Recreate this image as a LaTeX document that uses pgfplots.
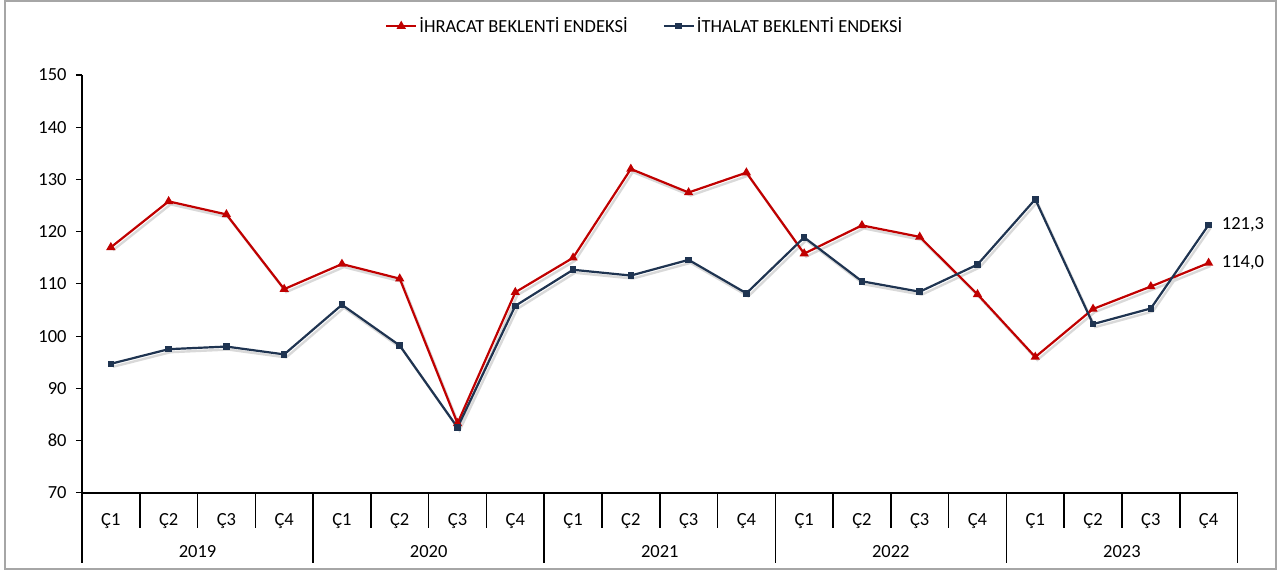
\documentclass[border=0pt]{standalone}
\usepackage{pgfplots}
\pgfplotsset{compat=1.18}
\usepackage{fontspec}
\setmainfont{Carlito}
\definecolor{ihr}{HTML}{C00000}
\definecolor{ith}{HTML}{1F3451}
\newcommand{\fs}{\fontsize{18.5}{22}\selectfont}
\begin{document}
\fs
\begin{tikzpicture}[x=1pt,y=1pt]
\path (0,0) rectangle (1277,571);
\draw[black!35, line width=2pt] (5,1.5) rectangle (1276.5,570);
\begin{axis}[
  at={(82pt,78pt)}, anchor=south west,
  scale only axis, width=1156pt, height=418pt,
  xmin=-0.5, xmax=19.5, ymin=70, ymax=150,
  ytick={70,80,...,150},
  xtick={0,...,19},
  xticklabels={Ç1,Ç2,Ç3,Ç4,Ç1,Ç2,Ç3,Ç4,Ç1,Ç2,Ç3,Ç4,Ç1,Ç2,Ç3,Ç4,Ç1,Ç2,Ç3,Ç4},
  axis x line*=bottom, axis y line*=left,
  axis line style={line width=1.6pt},
  x tick style={draw=none},
  y tick style={line width=1.2pt, black},
  tick align=outside, major tick length=6pt,
  x tick label style={anchor=center, yshift=-22pt, font=\fs},
  y tick label style={font=\fs, xshift=-3pt},
  /pgf/number format/assume math mode=true,
  clip=false,
  legend columns=2,
  legend style={draw=none, at={(0.487,1.117)}, anchor=center,
    font=\fs,
    /tikz/every even column/.append style={column sep=33pt}},
  legend image code/.code={
    \draw[#1] (0pt,0pt) -- (30pt,0pt);
    \draw[#1, mark repeat=1] plot coordinates {(15pt,0pt)};
  },
]
% shadows
\addplot[forget plot, black!15, line width=2.4pt, shift={(2pt,-3pt)}] coordinates {
(0,117.0)(1,125.8)(2,123.3)(3,109.0)(4,113.8)(5,111.0)(6,83.3)(7,108.4)(8,115.0)(9,132.0)
(10,127.5)(11,131.3)(12,115.8)(13,121.2)(14,119.0)(15,108.0)(16,96.0)(17,105.2)(18,109.5)(19,114.0)};
\addplot[forget plot, black!15, line width=2.4pt, shift={(2pt,-3pt)}] coordinates {
(0,94.7)(1,97.5)(2,98.0)(3,96.5)(4,106.0)(5,98.2)(6,82.5)(7,105.8)(8,112.7)(9,111.6)
(10,114.6)(11,108.2)(12,118.9)(13,110.5)(14,108.5)(15,113.7)(16,126.2)(17,102.3)(18,105.3)(19,121.3)};
\addplot[ihr, line width=2.2pt, mark=triangle*, mark size=3.2pt, mark options={solid}] coordinates {
(0,117.0)(1,125.8)(2,123.3)(3,109.0)(4,113.8)(5,111.0)(6,83.3)(7,108.4)(8,115.0)(9,132.0)
(10,127.5)(11,131.3)(12,115.8)(13,121.2)(14,119.0)(15,108.0)(16,96.0)(17,105.2)(18,109.5)(19,114.0)};
\addlegendentry{İHRACAT BEKLENTİ ENDEKSİ}
\addplot[ith, line width=2.2pt, mark=square*, mark size=2.2pt, mark options={solid}] coordinates {
(0,94.7)(1,97.5)(2,98.0)(3,96.5)(4,106.0)(5,98.2)(6,82.5)(7,105.8)(8,112.7)(9,111.6)
(10,114.6)(11,108.2)(12,118.9)(13,110.5)(14,108.5)(15,113.7)(16,126.2)(17,102.3)(18,105.3)(19,121.3)};
\addlegendentry{İTHALAT BEKLENTİ ENDEKSİ}
\node[anchor=west, xshift=7pt] at (axis cs:19,121.3) {121,3};
\node[anchor=west, xshift=7pt] at (axis cs:19,114.0) {114,0};
\end{axis}
\foreach \i in {1,2,3,5,6,7,9,10,11,13,14,15,17,18,19}{
  \draw[line width=1.6pt] ({82+57.8*\i},78) -- ({82+57.8*\i},43);
}
\foreach \i in {0,4,8,12,16,20}{
  \draw[line width=1.6pt] ({82+57.8*\i},78) -- ({82+57.8*\i},8);
}
\foreach \y [count=\k from 0] in {2019,2020,2021,2022,2023}{
  \node at ({82+57.8*(4*\k+2)},19) {\y};
}
\end{tikzpicture}
\end{document}
